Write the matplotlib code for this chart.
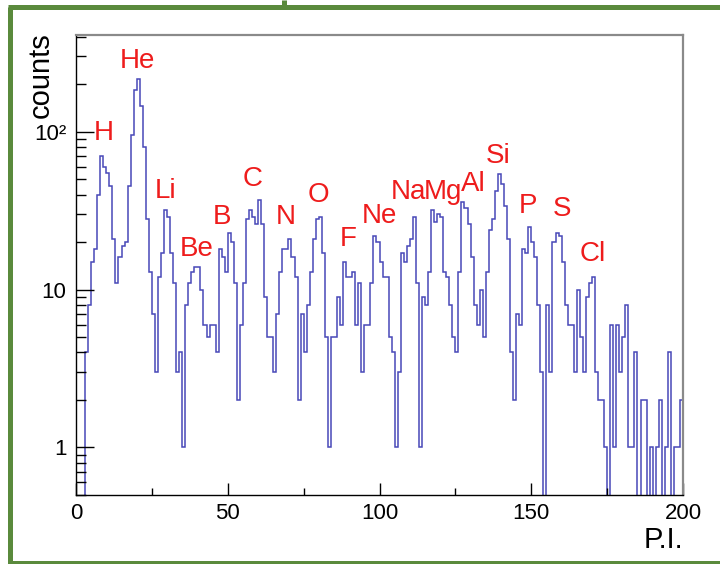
import numpy as np
import matplotlib
matplotlib.use('Agg')
import matplotlib.pyplot as plt
from matplotlib.lines import Line2D

plt.rcParams['font.family'] = ['Liberation Sans', 'DejaVu Sans']

# counts per P.I. bin, bins of width 1 from 0 to 200
counts = [
    0, 0, 0, 4, 8, 15, 18, 40, 70, 60,
    55, 45, 21, 11, 16, 19, 20, 45, 95, 185,
    215, 145, 80, 28, 13, 7, 3, 12, 17, 32,
    29, 17, 11, 3, 4, 1, 8, 11, 13, 14,
    14, 10, 6, 5, 6, 6, 4, 18, 16, 13,
    23, 20, 11, 2, 6, 11, 28, 32, 29, 26,
    37, 26, 9, 5, 5, 3, 7, 13, 18, 18,
    21, 16, 12, 2, 7, 4, 8, 13, 21, 28,
    29, 17, 5, 1, 5, 5, 9, 6, 15, 12,
    12, 13, 6, 11, 3, 6, 6, 11, 22, 20,
    15, 12, 12, 5, 4, 1, 3, 17, 15, 19,
    21, 29, 11, 1, 9, 8, 13, 32, 27, 30,
    29, 13, 12, 8, 5, 4, 13, 36, 33, 26,
    16, 8, 6, 10, 5, 13, 24, 28, 42, 54,
    47, 34, 21, 4, 2, 7, 6, 18, 17, 25,
    20, 16, 8, 3, 0, 8, 3, 20, 23, 22,
    15, 8, 6, 6, 3, 10, 5, 3, 9, 11,
    12, 3, 2, 2, 1, 0, 6, 1, 6, 3,
    5, 8, 1, 1, 4, 0, 2, 2, 0, 1,
    0, 1, 2, 0, 1, 4, 0, 1, 1, 2,
]
bin_edges = np.arange(len(counts) + 1)

elements = ['H', 'He', 'Li', 'Be', 'B', 'C', 'N', 'O', 'F', 'Ne',
            'Na', 'Mg', 'Al', 'Si', 'P', 'S', 'Cl']

x_ticks = [0, 50, 100, 150, 200]
y_ticks = [1, 10, 100]
y_tick_labels = ['1', '10', '10²']

# where each element name sits (P.I., counts)
label_pos = [(9.2, 98), (20.1, 279), (29.4, 42), (39.8, 18), (48.2, 29),
             (58.3, 50), (69.2, 28.7), (79.8, 39.5), (89.6, 20.8), (100.1, 29.2),
             (109.4, 41.5), (120.9, 41.5), (130.8, 46.5), (139.1, 70), (149.0, 33.8),
             (160.1, 32.4), (170.3, 16.7)]

fig = plt.figure(figsize=(7.2, 5.64), dpi=100)
ax = fig.add_axes([76 / 720, 69 / 564, 607 / 720, 460 / 564])

ax.stairs(counts, bin_edges, color='#4848b8', lw=1.1)

ax.set_yscale('log')
ax.set_xlim(0, 200)
ax.set_ylim(0.5, 410)

ax.set_xticks(x_ticks)
ax.set_xticks([25, 75, 125, 175], minor=True)
ax.set_xticklabels([str(t) for t in x_ticks])
ax.set_yticks(y_ticks)
ax.set_yticklabels(y_tick_labels)
y_minor = [m * 10.0 ** e for e in (-1, 0, 1, 2) for m in range(2, 10)]
y_minor = [v for v in y_minor if 0.5 <= v <= 410]
ax.set_yticks(y_minor, minor=True)
ax.yaxis.set_minor_formatter(plt.NullFormatter())

ax.tick_params(axis='x', which='major', direction='in', length=9, width=1,
               top=False, labelsize=16, pad=6)
ax.tick_params(axis='x', which='minor', direction='in', length=5, width=1, top=False)
ax.tick_params(axis='y', which='major', direction='in', length=13, width=1,
               right=False, labelsize=16, pad=7)
ax.tick_params(axis='y', which='minor', direction='in', length=7.5, width=1, right=False)

for side in ('left', 'bottom'):
    ax.spines[side].set_color('black')
    ax.spines[side].set_linewidth(1)
for side in ('top', 'right'):
    ax.spines[side].set_color('#8a8a8a')
    ax.spines[side].set_linewidth(1.6)

for name, (lx, ly) in zip(elements, label_pos):
    ax.text(lx, ly, name, color='#ee1c1c', fontsize=20, ha='center', va='center')

fig.text(41 / 720, 1 - 32 / 564, 'counts', rotation=90, ha='center', va='top', fontsize=21)
fig.text(683 / 720, 1 - 526 / 564, 'P.I.', ha='right', va='top', fontsize=21)

# green slide frame around the plot
green = '#5a8a3c'
frame = [
    ([9.5, 9.5], [7, 564]),
    ([8, 720], [7, 7]),
    ([284, 284], [0, 7]),
    ([8, 720], [563, 563]),
]
for xs, ys in frame:
    fig.add_artist(Line2D([x / 720 for x in xs], [1 - y / 564 for y in ys],
                          transform=fig.transFigure, color=green, lw=3.6,
                          solid_capstyle='butt'))

fig.savefig('out.png', dpi=100)
